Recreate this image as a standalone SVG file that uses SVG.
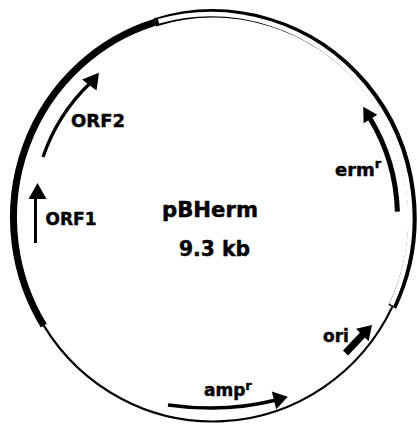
<svg xmlns="http://www.w3.org/2000/svg" width="417" height="425" viewBox="0 0 417 425">
  <style>
    .lbl { font-family: "DejaVu Sans", "Liberation Sans", sans-serif; font-weight: bold; fill: #000; stroke: #000; stroke-width: 0.45; }
    .arc { fill: none; stroke: #000; }
    .head { fill: #000; stroke: none; }
  </style>
  <rect x="0" y="0" width="417" height="425" fill="#fff"/>

  <g id="plasmid">
    <!-- solid black segment (left) -->
    <path class="arc" d="M 43.8 325.6 A 199.5 204 0 0 1 154.7 22.4" stroke-width="7"/>
    <!-- open double-line segment (top / right) -->
    <path class="arc" d="M 154.7 22.4 A 199.5 204 0 0 1 392.3 306.9" stroke-width="8.4"/>
    <path d="M 158.5 21.3 A 199.5 204 0 0 1 391.4 304.8" fill="none" stroke="#fff" stroke-width="4.6"/>
    <!-- thin backbone (bottom) -->
    <path class="arc" d="M 392.3 306.9 A 199.5 204 0 0 1 43.8 325.6" stroke-width="2.2"/>
  </g>

  <g id="title">
    <text class="lbl" x="162" y="216.7" font-size="20.5" textLength="96" lengthAdjust="spacingAndGlyphs">pBHerm</text>
    <text class="lbl" x="179" y="256" font-size="20.5" textLength="71" lengthAdjust="spacingAndGlyphs">9.3 kb</text>
  </g>

  <g id="arrows">
    <g id="orf1-arrow">
      <line x1="35.5" y1="243" x2="35.5" y2="196" stroke="#000" stroke-width="3"/>
      <polygon class="head" points="37.5,183 28.5,199 46.5,199"/>
    </g>
    <g id="orf2-arrow">
      <path class="arc" d="M 43 157 A 180 184 0 0 1 90 83.2" stroke-width="3.3"/>
      <polygon class="head" points="99,72.7 82,79.5 96.5,90.5"/>
    </g>
    <g id="erm-arrow">
      <path class="arc" d="M 397.4 211.6 A 184.5 188.7 0 0 0 369.5 117.5" stroke-width="5"/>
      <polygon class="head" points="363.2,106.8 377.3,114.8 363.6,123.2"/>
    </g>
    <g id="ori-arrow">
      <line x1="345.5" y1="353" x2="363" y2="334.5" stroke="#000" stroke-width="7"/>
      <polygon class="head" points="372,325 356,328.8 368.6,341.2"/>
    </g>
    <g id="amp-arrow">
      <path class="arc" d="M 168 405 Q 225 413 275 400.3" stroke-width="3.5"/>
      <polygon class="head" points="287.8,396.8 271.8,391.6 276.2,409.2"/>
    </g>
  </g>

  <g id="ORF1"><text class="lbl" x="45.5" y="225" font-size="17">ORF1</text></g>
  <g id="ORF2"><text class="lbl" x="71" y="126.5" font-size="18">ORF2</text></g>
  <g id="ermr"><text class="lbl" x="335" y="176" font-size="18">erm<tspan font-size="13" dy="-8">r</tspan></text></g>
  <g id="ori"><text class="lbl" x="323" y="341.7" font-size="17">ori</text></g>
  <g id="ampr"><text class="lbl" x="204" y="396" font-size="17">amp<tspan font-size="13" dy="-6">r</tspan></text></g>
</svg>
